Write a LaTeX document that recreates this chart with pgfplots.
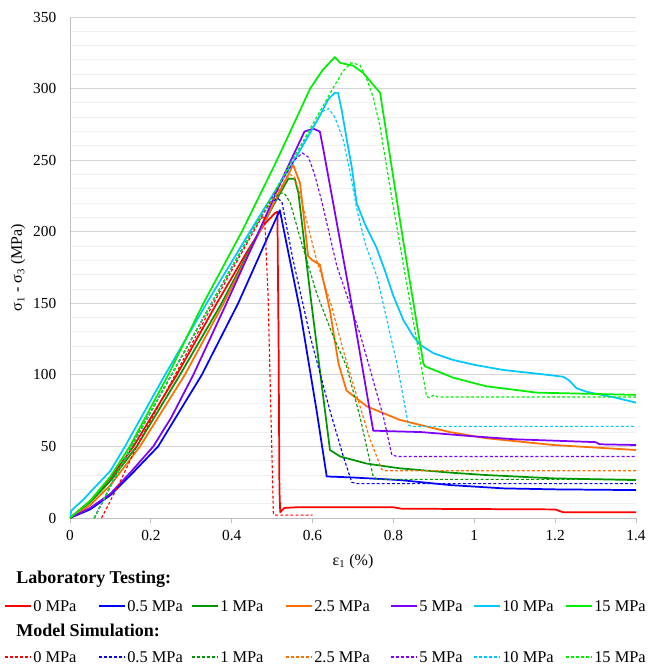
\documentclass[border=0pt]{standalone}
\usepackage{fontspec}
\setmainfont{Liberation Serif}
\usepackage{pgfplots}
\pgfplotsset{compat=1.18}

\definecolor{cRed}{RGB}{255,0,0}
\definecolor{cBlue}{RGB}{0,0,255}
\definecolor{cDkGreen}{RGB}{0,150,0}
\definecolor{cOrange}{RGB}{255,110,0}
\definecolor{cPurple}{RGB}{125,0,255}
\definecolor{cCyan}{RGB}{0,200,255}
\definecolor{cGreen}{RGB}{0,238,0}

\tikzset{
  lab/.style={line width=1.3pt, line join=round},
  sim/.style={line width=0.85pt, dash pattern=on 2.2pt off 1.6pt},
}

\begin{document}
\begin{tikzpicture}
\begin{axis}[
  at={(0,0)}, anchor=south west,
  scale only axis, width=424.5pt, height=375.75pt,
  xmin=0, xmax=1.4, ymin=0, ymax=350,
  xtick={0,0.2,0.4,0.6,0.8,1,1.2,1.4},
  ytick={0,50,100,150,200,250,300,350},
  minor y tick num=4,
  ymajorgrids, yminorgrids,
  major grid style={draw=black!17, line width=0.7pt},
  minor grid style={draw=black!6, line width=0.7pt},
  axis x line*=bottom, axis y line*=left,
  axis line style={draw=black!25, line width=0.7pt},
  tick align=outside,
  major tick length=3.8pt,
  xtick style={draw=black!25, line width=0.7pt},
  ytick style={draw=none},
  minor tick style={draw=none},
  /pgf/number format/assume math mode=true,
  tick label style={font=\fontsize{11.5}{13}\selectfont},
  yticklabel style={xshift=-3pt},
  xticklabel style={yshift=-2pt},
  xlabel={ε\textsubscript{1} (\%)},
  ylabel={σ\textsubscript{1} - σ\textsubscript{3} (MPa)},
  label style={font=\fontsize{12}{14}\selectfont},
  xlabel style={yshift=-3pt},
  ylabel style={yshift=-1pt},
]
% ---------- laboratory tests ----------
\addplot[lab, cRed] coordinates {
(0,0)(0.05,12)(0.1,28)(0.157,50)(0.264,100)(0.363,150)(0.44,187)(0.48,205)
(0.507,213)(0.513,214)(0.516,120)(0.518,20)(0.52,4)(0.53,7)(0.56,7.5)(0.8,7.5)
(0.82,6.5)(1.2,6)(1.22,4)(1.4,4)};
\addplot[lab, cBlue] coordinates {
(0,0)(0.05,6)(0.1,16)(0.15,30)(0.218,50)(0.326,100)(0.416,150)(0.495,200)
(0.519,215)(0.569,145)(0.61,75)(0.635,29)(0.693,28.4)(0.816,26.5)(0.94,23)
(1.072,20.7)(1.2,20)(1.4,19.5)};
\addplot[lab, cDkGreen] coordinates {
(0,0)(0.05,11)(0.1,26)(0.165,50)(0.272,100)(0.375,150)(0.468,200)(0.51,222)
(0.54,237)(0.556,237)(0.565,227)(0.594,157)(0.643,47.5)(0.668,43)(0.734,38)
(0.816,34.7)(0.94,31.7)(1.03,30)(1.195,27.7)(1.4,26.5)};
\addplot[lab, cOrange] coordinates {
(0,0)(0.05,9)(0.1,23)(0.173,50)(0.284,100)(0.38,150)(0.469,200)(0.52,229)
(0.552,246.6)(0.569,234)(0.589,183)(0.60,180)(0.618,177)(0.643,145)(0.664,108)
(0.684,89)(0.734,78)(0.816,68.5)(0.866,65)(0.94,60)(1.03,55.7)(1.195,51)(1.4,47.5)};
\addplot[lab, cPurple] coordinates {
(0,0)(0.05,7)(0.1,17)(0.15,32)(0.206,50)(0.25,70)(0.305,100)(0.387,150)
(0.467,200)(0.53,240)(0.58,270)(0.602,272)(0.618,270)(0.627,257)(0.693,155)
(0.75,61)(0.87,60)(1.0,57)(1.1,55)(1.2,54)(1.3,53)(1.31,51.5)(1.4,51)};
\addplot[lab, cCyan] coordinates {
(0,0)(0.003,5)(0.01,7)(0.03,12)(0.05,18)(0.1,33)(0.136,50)(0.235,100)
(0.338,150)(0.445,200)(0.555,250)(0.61,277)(0.64,293)(0.655,297)(0.663,297)
(0.672,285)(0.688,259)(0.697,245)(0.709,220)(0.73,205)(0.758,189)(0.78,172)
(0.80,155)(0.825,138)(0.849,127)(0.866,121)(0.9,115)(0.948,110.4)(1.0,107)
(1.072,103.4)(1.15,101)(1.22,98.7)(1.235,96)(1.253,90.6)(1.278,88.2)(1.35,84)(1.4,80.6)};
\addplot[lab, cGreen] coordinates {
(0,0)(0.05,12)(0.1,29)(0.148,50)(0.243,100)(0.33,150)(0.425,200)(0.512,250)
(0.594,300)(0.625,313)(0.655,322)(0.668,318)(0.70,316)(0.725,311)(0.767,297)
(0.824,194)(0.874,108)(0.878,106)(0.948,98)(1.03,92)(1.154,87.6)(1.4,86)};
% ---------- model simulation ----------
\addplot[sim, cRed] coordinates {
(0.078,0)(0.1,12)(0.125,26)(0.165,50)(0.26,100)(0.355,150)(0.45,198)(0.472,209)
(0.48,211)(0.483,200)(0.49,155)(0.503,3)(0.51,2)(0.6,2)};
\addplot[sim, cBlue] coordinates {
(0.06,0)(0.107,26)(0.152,50)(0.251,100)(0.35,150)(0.45,200)(0.49,218)(0.505,222)
(0.515,223)(0.524,221)(0.552,180)(0.594,127)(0.643,75)(0.676,43)(0.697,25)
(0.71,24)(1.4,24)};
\addplot[sim, cDkGreen] coordinates {
(0.06,0)(0.107,26)(0.152,50)(0.251,100)(0.35,150)(0.45,200)(0.5,222)(0.52,227)
(0.53,227)(0.545,220)(0.569,196)(0.61,157)(0.651,127)(0.684,106)(0.717,71)
(0.75,29)(0.76,27)(1.4,27)};
\addplot[sim, cOrange] coordinates {
(0.06,0)(0.107,26)(0.152,50)(0.251,100)(0.35,150)(0.45,200)(0.53,235)(0.545,240)
(0.555,238)(0.57,225)(0.61,180)(0.647,148)(0.676,117)(0.70,94)(0.742,55)
(0.771,34)(0.78,33)(1.4,33)};
\addplot[sim, cPurple] coordinates {
(0.06,0)(0.107,26)(0.152,50)(0.251,100)(0.35,150)(0.45,200)(0.53,238)(0.555,250)
(0.575,255)(0.59,252)(0.605,240)(0.622,222)(0.66,176)(0.717,129)(0.775,71)
(0.796,44)(0.81,43)(1.4,43)};
\addplot[sim, cCyan] coordinates {
(0.06,0)(0.107,26)(0.152,50)(0.251,100)(0.35,150)(0.45,200)(0.55,250)(0.6,273)
(0.625,284)(0.64,286)(0.655,280)(0.676,264)(0.693,241)(0.71,215)(0.73,192)
(0.76,168)(0.81,106)(0.837,65)(0.845,64)(1.4,64)};
\addplot[sim, cGreen] coordinates {
(0.06,0)(0.107,26)(0.152,50)(0.251,100)(0.35,150)(0.45,200)(0.55,250)(0.65,300)
(0.675,312)(0.695,318)(0.717,316.5)(0.735,306)(0.75,294)(0.767,273)(0.80,217)
(0.84,152)(0.882,85)(0.89,84)(0.9,86)(0.91,84.5)(1.4,84.5)};
\end{axis}

% ---------- legend block below the axis ----------
\begin{scope}[x=0.75pt, y=-0.75pt, xshift=-52.5pt, yshift=388.5pt]
  \path[use as bounding box] (0,0) rectangle (646,665);
  \node[anchor=west, inner sep=0, font=\fontsize{13.5}{15}\selectfont\bfseries] at (16,579) {Laboratory Testing:};
  \node[anchor=west, inner sep=0, font=\fontsize{13.5}{15}\selectfont\bfseries] at (16,630) {Model Simulation:};
  \foreach \xx/\cc/\tt in {5/cRed/0 MPa, 99/cBlue/0.5 MPa, 192/cDkGreen/1 MPa, 286/cOrange/2.5 MPa,
                           391/cPurple/5 MPa, 474/cCyan/10 MPa, 566/cGreen/15 MPa}{
    \draw[lab, draw=\cc] (\xx,606) -- ++(26,0);
    \node[anchor=west, inner sep=0, font=\fontsize{12.3}{14}\selectfont] at (\xx+28,606) {\tt};
    \draw[sim, draw=\cc, line width=1pt] (\xx,657) -- ++(26,0);
    \node[anchor=west, inner sep=0, font=\fontsize{12.3}{14}\selectfont] at (\xx+28,657) {\tt};
  }
\end{scope}
\end{tikzpicture}
\end{document}
